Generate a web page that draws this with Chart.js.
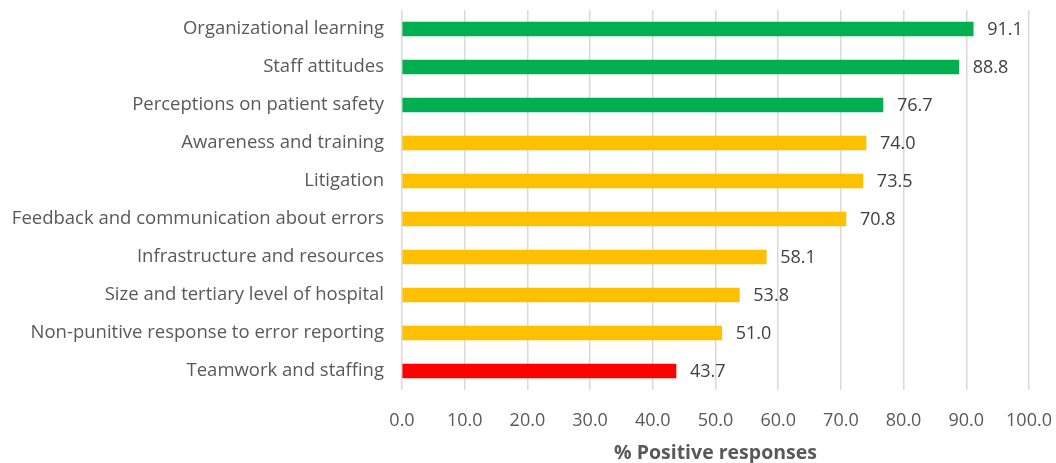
<!DOCTYPE html>
<html>
<head>
<meta charset="utf-8">
<script src="https://cdn.jsdelivr.net/npm/chart.js@4.4.1/dist/chart.umd.min.js"></script>
<style>
  html, body { margin: 0; padding: 0; background: #fff; }
  #wrap { width: 1056px; height: 463px; position: relative; }
</style>
</head>
<body>
<div id="wrap"><canvas id="chart"></canvas></div>
<script>
const categories = [
  "Organizational learning",
  "Staff attitudes",
  "Perceptions on patient safety",
  "Awareness and training",
  "Litigation",
  "Feedback and communication about errors",
  "Infrastructure and resources",
  "Size and tertiary level of hospital",
  "Non-punitive response to error reporting",
  "Teamwork and staffing"
];
const values = [91.1, 88.8, 76.7, 74.0, 73.5, 70.8, 58.1, 53.8, 51.0, 43.7];
const barColors = ["#00B050", "#00B050", "#00B050", "#FFC000", "#FFC000", "#FFC000", "#FFC000", "#FFC000", "#FFC000", "#FF0000"];
const axisTitle = "% Positive responses";

const FONT = "'Open Sans', 'Liberation Sans', sans-serif";
const GREY = "#595959";

// value labels at end of each bar
const valueLabels = {
  id: "valueLabels",
  afterDatasetsDraw(chart) {
    const ctx = chart.ctx;
    const meta = chart.getDatasetMeta(0);
    ctx.save();
    ctx.font = "18px " + FONT;
    ctx.fillStyle = "#404040";
    ctx.textAlign = "left";
    ctx.textBaseline = "middle";
    meta.data.forEach((bar, i) => {
      ctx.fillText(values[i].toFixed(1), bar.x + 14, bar.y + 1);
    });
    ctx.restore();
  }
};

chartInstance = new Chart(document.getElementById("chart"), {
  type: "bar",
  data: {
    labels: categories,
    datasets: [{
      data: values,
      backgroundColor: barColors,
      barThickness: 14
    }]
  },
  options: {
    indexAxis: "y",
    responsive: true,
    maintainAspectRatio: false,
    animation: false,
    layout: { padding: { top: 10, right: 27, left: 0, bottom: 0 } },
    plugins: {
      legend: { display: false },
      tooltip: { enabled: false }
    },
    scales: {
      x: {
        min: 0,
        max: 100,
        ticks: {
          stepSize: 10,
          color: GREY,
          font: { family: FONT, size: 18 },
          padding: 20,
          callback: v => v.toFixed(1)
        },
        grid: { color: "#d9d9d9", lineWidth: 1.5, drawTicks: false },
        border: { display: false },
        title: {
          display: true,
          text: axisTitle,
          color: GREY,
          font: { family: FONT, size: 19.5, weight: "bold" },
          padding: { top: 4, bottom: -2 }
        },
        afterFit(scale) {
          scale.height = 73;
          scale.paddingLeft = 0;
          scale.paddingRight = 0;
        }
      },
      y: {
        ticks: {
          color: GREY,
          font: { family: FONT, size: 18.5 },
          padding: 18
        },
        grid: { display: false, drawTicks: false },
        border: { display: false },
        afterFit(scale) {
          scale.width = 402;
          scale.paddingTop = 0;
          scale.paddingBottom = 0;
        }
      }
    }
  },
  plugins: [valueLabels]
});
</script>
</body>
</html>
